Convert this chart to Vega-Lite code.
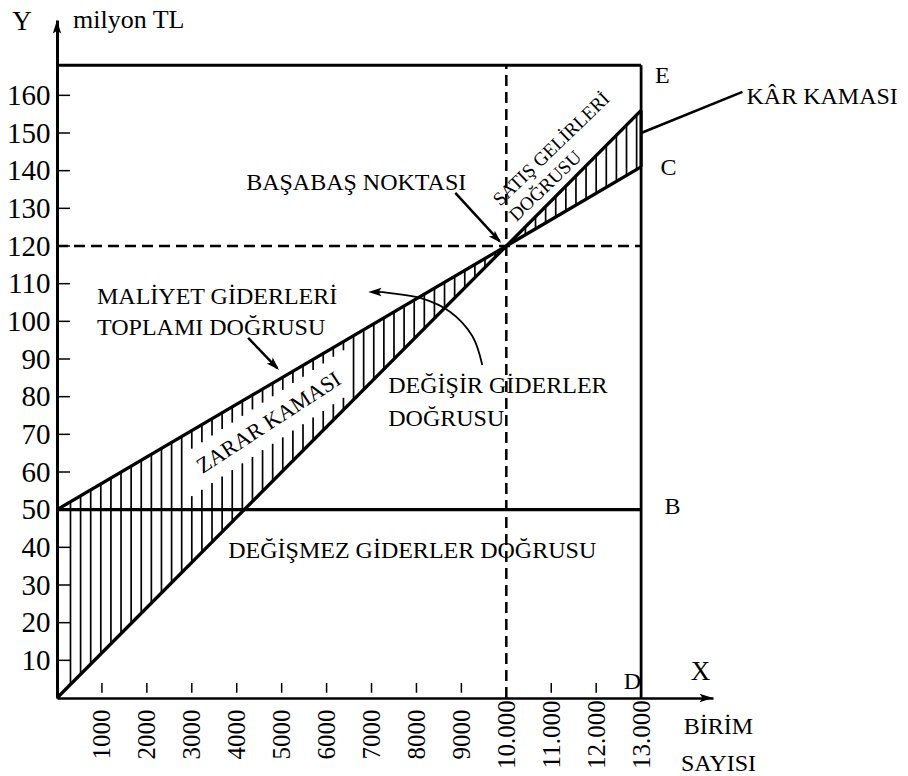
{
  "$schema": "https://vega.github.io/schema/vega-lite/v6.json",
  "width": 656,
  "height": 678,
  "autosize": {"type": "none"},
  "padding": {"left": 57, "top": 20, "right": 195, "bottom": 78},
  "background": "white",
  "config": {
    "view": {"stroke": null},
    "font": "Liberation Serif",
    "text": {"font": "Liberation Serif", "color": "black"}
  },
  "datasets": {
    "segments": [
      {"kind": "main", "x": 0, "y": 0, "x2": 13000, "y2": 156},
      {"kind": "main", "x": 0, "y": 50, "x2": 13000, "y2": 141},
      {"kind": "main", "x": 0, "y": 50, "x2": 13000, "y2": 50},
      {"kind": "frame", "x": 0, "y": 168, "x2": 13000, "y2": 168},
      {"kind": "border", "x": 13000, "y": 0, "x2": 13000, "y2": 168},
      {"kind": "frame", "x": 13000, "y": 141, "x2": 13000, "y2": 156},
      {"kind": "pointer", "x": 13000, "y": 150, "x2": 15256, "y2": 160.9},
      {"kind": "pointer", "x": 8864, "y": 134.1, "x2": 9850, "y2": 121.3},
      {"kind": "pointer", "x": 4254, "y": 95.6, "x2": 4900, "y2": 87.6}
    ],
    "dashed": [
      {"x": 0, "y": 120, "x2": 13000, "y2": 120},
      {"x": 10000, "y": 0, "x2": 10000, "y2": 168}
    ],
    "ticksY": [
      {"x": 0, "x2": 290, "y": 10}, {"x": 0, "x2": 290, "y": 20}, {"x": 0, "x2": 290, "y": 30},
      {"x": 0, "x2": 290, "y": 40}, {"x": 0, "x2": 290, "y": 50}, {"x": 0, "x2": 290, "y": 60},
      {"x": 0, "x2": 290, "y": 70}, {"x": 0, "x2": 290, "y": 80}, {"x": 0, "x2": 290, "y": 90},
      {"x": 0, "x2": 290, "y": 100}, {"x": 0, "x2": 290, "y": 110}, {"x": 0, "x2": 290, "y": 120},
      {"x": 0, "x2": 290, "y": 130}, {"x": 0, "x2": 290, "y": 140}, {"x": 0, "x2": 290, "y": 150},
      {"x": 0, "x2": 290, "y": 160}
    ],
    "ticksX": [
      {"x": 1000, "y": 1.4, "y2": 4.0}, {"x": 2000, "y": 1.4, "y2": 4.0}, {"x": 3000, "y": 1.4, "y2": 4.0},
      {"x": 4000, "y": 1.4, "y2": 4.0}, {"x": 5000, "y": 1.4, "y2": 4.0}, {"x": 6000, "y": 1.4, "y2": 4.0},
      {"x": 7000, "y": 1.4, "y2": 4.0}, {"x": 8000, "y": 1.4, "y2": 4.0}, {"x": 9000, "y": 1.4, "y2": 4.0},
      {"x": 11000, "y": 1.4, "y2": 4.0}, {"x": 12000, "y": 1.4, "y2": 4.0}
    ],
    "hatch": [
      {"x": 300, "y": 3.6, "y2": 52.1},
      {"x": 525, "y": 6.3, "y2": 53.7},
      {"x": 750, "y": 9.0, "y2": 55.3},
      {"x": 975, "y": 11.7, "y2": 56.8},
      {"x": 1200, "y": 14.4, "y2": 58.4},
      {"x": 1425, "y": 17.1, "y2": 60.0},
      {"x": 1650, "y": 19.8, "y2": 61.6},
      {"x": 1875, "y": 22.5, "y2": 63.1},
      {"x": 2100, "y": 25.2, "y2": 64.7},
      {"x": 2325, "y": 27.9, "y2": 66.3},
      {"x": 2550, "y": 30.6, "y2": 67.9},
      {"x": 2775, "y": 33.3, "y2": 69.4},
      {"x": 3000, "y": 36.0, "y2": 53.6},
      {"x": 3000, "y": 66.2, "y2": 71.0},
      {"x": 3225, "y": 38.7, "y2": 55.3},
      {"x": 3225, "y": 67.9, "y2": 72.6},
      {"x": 3450, "y": 41.4, "y2": 57.1},
      {"x": 3450, "y": 69.7, "y2": 74.2},
      {"x": 3675, "y": 44.1, "y2": 58.8},
      {"x": 3675, "y": 71.4, "y2": 75.7},
      {"x": 3900, "y": 46.8, "y2": 60.5},
      {"x": 3900, "y": 73.1, "y2": 77.3},
      {"x": 4125, "y": 49.5, "y2": 62.3},
      {"x": 4125, "y": 74.9, "y2": 78.9},
      {"x": 4350, "y": 52.2, "y2": 64.0},
      {"x": 4350, "y": 76.6, "y2": 80.5},
      {"x": 4575, "y": 54.9, "y2": 65.8},
      {"x": 4575, "y": 78.4, "y2": 82.0},
      {"x": 4800, "y": 57.6, "y2": 67.5},
      {"x": 4800, "y": 80.1, "y2": 83.6},
      {"x": 5025, "y": 60.3, "y2": 69.2},
      {"x": 5025, "y": 81.8, "y2": 85.2},
      {"x": 5250, "y": 63.0, "y2": 71.0},
      {"x": 5250, "y": 83.6, "y2": 86.8},
      {"x": 5475, "y": 65.7, "y2": 72.7},
      {"x": 5475, "y": 85.3, "y2": 88.3},
      {"x": 5700, "y": 68.4, "y2": 74.5},
      {"x": 5700, "y": 87.1, "y2": 89.9},
      {"x": 5925, "y": 71.1, "y2": 76.2},
      {"x": 5925, "y": 88.8, "y2": 91.5},
      {"x": 6150, "y": 73.8, "y2": 78.0},
      {"x": 6150, "y": 90.6, "y2": 93.1},
      {"x": 6375, "y": 76.5, "y2": 79.7},
      {"x": 6375, "y": 92.3, "y2": 94.6},
      {"x": 6600, "y": 79.2, "y2": 96.2},
      {"x": 6825, "y": 81.9, "y2": 97.8},
      {"x": 7050, "y": 84.6, "y2": 99.4},
      {"x": 7275, "y": 87.3, "y2": 100.9},
      {"x": 7500, "y": 90.0, "y2": 102.5},
      {"x": 7725, "y": 92.7, "y2": 104.1},
      {"x": 7950, "y": 95.4, "y2": 105.7},
      {"x": 8175, "y": 98.1, "y2": 107.2},
      {"x": 8400, "y": 100.8, "y2": 108.8},
      {"x": 8625, "y": 103.5, "y2": 110.4},
      {"x": 8850, "y": 106.2, "y2": 112.0},
      {"x": 9075, "y": 108.9, "y2": 113.5},
      {"x": 9300, "y": 111.6, "y2": 115.1},
      {"x": 9525, "y": 114.3, "y2": 116.7},
      {"x": 9750, "y": 117.0, "y2": 118.3},
      {"x": 10200, "y": 121.4, "y2": 122.4},
      {"x": 10425, "y": 123.0, "y2": 125.1},
      {"x": 10650, "y": 124.6, "y2": 127.8},
      {"x": 10875, "y": 126.1, "y2": 130.5},
      {"x": 11100, "y": 127.7, "y2": 133.2},
      {"x": 11325, "y": 129.3, "y2": 135.9},
      {"x": 11550, "y": 130.9, "y2": 138.6},
      {"x": 11775, "y": 132.4, "y2": 141.3},
      {"x": 12000, "y": 134.0, "y2": 144.0},
      {"x": 12225, "y": 135.6, "y2": 146.7},
      {"x": 12450, "y": 137.2, "y2": 149.4},
      {"x": 12675, "y": 138.7, "y2": 152.1},
      {"x": 12900, "y": 140.3, "y2": 154.8}
    ],
    "curve": [
      {"order": 1, "x": 9465, "y": 88.4},
      {"order": 2, "x": 9243, "y": 96.1},
      {"order": 3, "x": 8753, "y": 102.5},
      {"order": 4, "x": 8085, "y": 106.2},
      {"order": 5, "x": 7416, "y": 107.5},
      {"order": 6, "x": 7082, "y": 107.8}
    ],
    "heads": [
      {"x": 0, "y": 178.1, "heading": 0},
      {"x": 14443, "y": 0, "heading": 90},
      {"x": 9777, "y": 122.1, "heading": 135},
      {"x": 4833, "y": 88.4, "heading": 135},
      {"x": 7082, "y": 107.8, "heading": 270}
    ],
    "labelsCenter": [
      {"text": "BAŞABAŞ NOKTASI", "x": 6659, "y": 136.7},
      {"text": "DEĞİŞMEZ GİDERLER DOĞRUSU", "x": 7906, "y": 39.0},
      {"text": "D", "x": 12806, "y": 4.2},
      {"text": "E", "x": 13474, "y": 165.1},
      {"text": "C", "x": 13608, "y": 140.7},
      {"text": "B", "x": 13697, "y": 50.7},
      {"text": "BİRİM", "x": 14722, "y": -7.7},
      {"text": "SAYISI", "x": 14722, "y": -17.5}
    ],
    "labelsLeft": [
      {"text": "KÂR KAMASI", "x": 15345, "y": 159.5},
      {"text": "MALİYET GİDERLERİ", "x": 891, "y": 106.5},
      {"text": "TOPLAMI DOĞRUSU", "x": 891, "y": 98.2},
      {"text": "DEĞİŞİR GİDERLER", "x": 7372, "y": 82.8},
      {"text": "DOĞRUSU", "x": 7372, "y": 74.1}
    ],
    "axisLetters": [
      {"text": "Y", "x": -780, "y": 179.5},
      {"text": "X", "x": 14321, "y": 6.9}
    ],
    "unit": [
      {"text": "milyon TL", "x": 356, "y": 180}
    ],
    "salesText": [
      {"text": "SATIŞ GELİRLERİ", "x": 11002, "y": 145.7},
      {"text": "DOĞRUSU", "x": 10869, "y": 135.9}
    ],
    "lossText": [
      {"text": "ZARAR KAMASI", "x": 4710, "y": 73.1}
    ]
  },
  "encoding": {
    "x": {
      "field": "x",
      "type": "quantitative",
      "scale": {"domain": [0, 14600], "nice": false, "zero": false},
      "axis": {
        "values": [1000, 2000, 3000, 4000, 5000, 6000, 7000, 8000, 9000, 10000, 11000, 12000, 13000],
        "labelExpr": "datum.value >= 10000 ? format(datum.value / 1000, 'd') + '.000' : format(datum.value, 'd')",
        "labelAngle": -90,
        "labelAlign": "center",
        "labelBaseline": "middle",
        "labelPadding": 36,
        "labelFont": "Liberation Serif",
        "labelFontSize": 25,
        "labelColor": "black",
        "labelOverlap": false,
        "labelFlush": false,
        "labelBound": false,
        "ticks": false,
        "tickSize": 0,
        "domainColor": "black",
        "domainWidth": 2.5,
        "grid": false,
        "title": null
      }
    },
    "y": {
      "field": "y",
      "type": "quantitative",
      "scale": {"domain": [0, 180], "nice": false, "zero": false},
      "axis": {
        "values": [10, 20, 30, 40, 50, 60, 70, 80, 90, 100, 110, 120, 130, 140, 150, 160],
        "labelPadding": 7,
        "labelFont": "Liberation Serif",
        "labelFontSize": 29,
        "labelColor": "black",
        "labelOverlap": false,
        "labelFlush": false,
        "labelBound": false,
        "ticks": false,
        "tickSize": 0,
        "domainColor": "black",
        "domainWidth": 3,
        "grid": false,
        "title": null
      }
    }
  },
  "layer": [
    {
      "data": {"name": "hatch"},
      "mark": {"type": "rule", "color": "black", "strokeWidth": 1.7},
      "encoding": {"y2": {"field": "y2"}}
    },
    {
      "data": {"name": "ticksY"},
      "mark": {"type": "rule", "color": "black", "strokeWidth": 1.5},
      "encoding": {"x2": {"field": "x2"}}
    },
    {
      "data": {"name": "ticksX"},
      "mark": {"type": "rule", "color": "black", "strokeWidth": 1.5},
      "encoding": {"y2": {"field": "y2"}}
    },
    {
      "data": {"name": "dashed"},
      "mark": {"type": "rule", "color": "black", "strokeWidth": 2.5, "strokeDash": [11, 6]},
      "encoding": {"x2": {"field": "x2"}, "y2": {"field": "y2"}}
    },
    {
      "data": {"name": "segments"},
      "mark": {"type": "rule", "color": "black"},
      "encoding": {
        "x2": {"field": "x2"},
        "y2": {"field": "y2"},
        "strokeWidth": {
          "field": "kind",
          "type": "nominal",
          "scale": {"domain": ["main", "frame", "border", "pointer"], "range": [3.3, 2.5, 1.6, 1.8]},
          "legend": null
        }
      }
    },
    {
      "data": {"name": "curve"},
      "mark": {"type": "line", "interpolate": "cardinal", "color": "black", "strokeWidth": 1.8},
      "encoding": {"order": {"field": "order", "type": "quantitative"}}
    },
    {
      "data": {"name": "heads"},
      "mark": {"type": "point", "shape": "M0,-1L0.6,0.9L0,0.5L-0.6,0.9Z", "filled": true, "color": "black", "size": 196, "opacity": 1},
      "encoding": {"angle": {"field": "heading", "type": "quantitative", "scale": null}}
    },
    {
      "data": {"name": "labelsCenter"},
      "mark": {"type": "text", "align": "center", "baseline": "middle", "fontSize": 24, "font": "Liberation Serif", "color": "black"},
      "encoding": {"text": {"field": "text"}}
    },
    {
      "data": {"name": "labelsLeft"},
      "mark": {"type": "text", "align": "left", "baseline": "middle", "fontSize": 24, "font": "Liberation Serif", "color": "black"},
      "encoding": {"text": {"field": "text"}}
    },
    {
      "data": {"name": "axisLetters"},
      "mark": {"type": "text", "align": "center", "baseline": "middle", "fontSize": 27, "font": "Liberation Serif", "color": "black"},
      "encoding": {"text": {"field": "text"}}
    },
    {
      "data": {"name": "unit"},
      "mark": {"type": "text", "align": "left", "baseline": "middle", "fontSize": 26, "font": "Liberation Serif", "color": "black"},
      "encoding": {"text": {"field": "text"}}
    },
    {
      "data": {"name": "salesText"},
      "mark": {"type": "text", "align": "center", "baseline": "middle", "fontSize": 19, "angle": 316, "font": "Liberation Serif", "color": "black"},
      "encoding": {"text": {"field": "text"}}
    },
    {
      "data": {"name": "lossText"},
      "mark": {"type": "text", "align": "center", "baseline": "middle", "fontSize": 22, "angle": 327, "font": "Liberation Serif", "color": "black"},
      "encoding": {"text": {"field": "text"}}
    }
  ]
}
